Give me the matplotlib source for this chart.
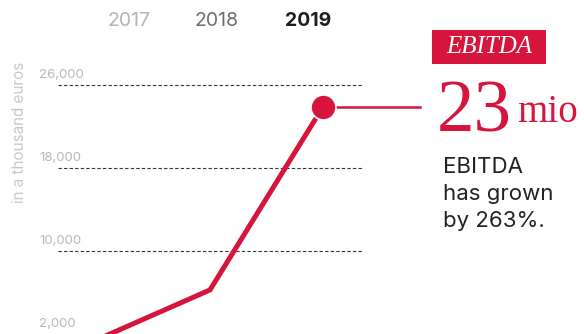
import matplotlib
matplotlib.use("Agg")
import matplotlib.pyplot as plt
from matplotlib.patches import Rectangle

years = [2017, 2018, 2019]
ebitda = [1450, 6250, 23900]          # in a thousand euros
grid_values = [26000, 18000, 10000, 2000]
grid_labels = ["26,000", "18,000", "10,000", "2,000"]
year_colors = ["#b4b4b4", "#6e6e6e", "#1e1e1e"]
year_weights = ["normal", "normal", "bold"]

RED = "#d7143c"
SANS = "Inter"
SERIF = "Liberation Serif"

W, H = 584, 334
fig = plt.figure(figsize=(W / 100, H / 100), dpi=100)

# plot area: x pixels 58..362, full height
ax = fig.add_axes([58 / W, 0, (362 - 58) / W, 1])
ax.set_xlim(2016.655, 2019.345)
ax.set_ylim(2000, 34190)
ax.axis("off")

for v, lab in zip(grid_values, grid_labels):
    if v > 2000:
        ax.axhline(v, color="#333333", lw=0.8, ls=(0, (3, 2)), zorder=1)
    ax.annotate(lab, xy=(-0.0625, v), xycoords=ax.get_yaxis_transform(),
                xytext=(0, 4), textcoords="offset pixels", ha="left", va="bottom",
                fontsize=9.5, color="#b8b8b8", family=SANS)

ax.plot(years, ebitda, color=RED, lw=3.6, solid_joinstyle="miter", zorder=3)

# connector from 2019 point to the big number
ax.plot([years[-1], 2019.86], [ebitda[-1], ebitda[-1]], color=RED, lw=1.8,
        clip_on=False, zorder=3)
ax.plot([years[-1]], [ebitda[-1]], "o", ms=18, color=RED, mec="white", mew=1.2,
        zorder=4, clip_on=False)

# year tabs
for x, yr, c, w in zip([129, 216, 308], years, year_colors, year_weights):
    fig.text(x / W, 1 - 21 / H, str(yr), ha="center", va="center", fontsize=14,
             color=c, fontweight=w, family=SANS)

fig.text(20 / W, 1 - 132 / H, "in a thousand euros", rotation=90, ha="center",
         va="center", fontsize=11, color="#c8c8c8", family=SANS)

# label box
fig.patches.append(Rectangle((432 / W, 1 - 64 / H), 114 / W, 34 / H,
                             transform=fig.transFigure, fc=RED, ec="none"))
fig.text(489 / W, 1 - 47 / H, "EBITDA", ha="center", va="center", fontsize=18,
         style="italic", color="white", family=SERIF)

fig.text(437 / W, 1 - 131 / H, "23", ha="left", va="baseline", fontsize=54,
         color=RED, family=SERIF)
fig.text(517 / W, 1 - 122 / H, "mio", ha="left", va="baseline", fontsize=28,
         color=RED, family=SERIF)

fig.text(443 / W, 1 - 157 / H, "EBITDA\nhas grown\nby 263%.", ha="left",
         va="top", fontsize=16, color="#222222", family=SANS, linespacing=1.45)

fig.savefig("out.png", dpi=100, facecolor="white")
